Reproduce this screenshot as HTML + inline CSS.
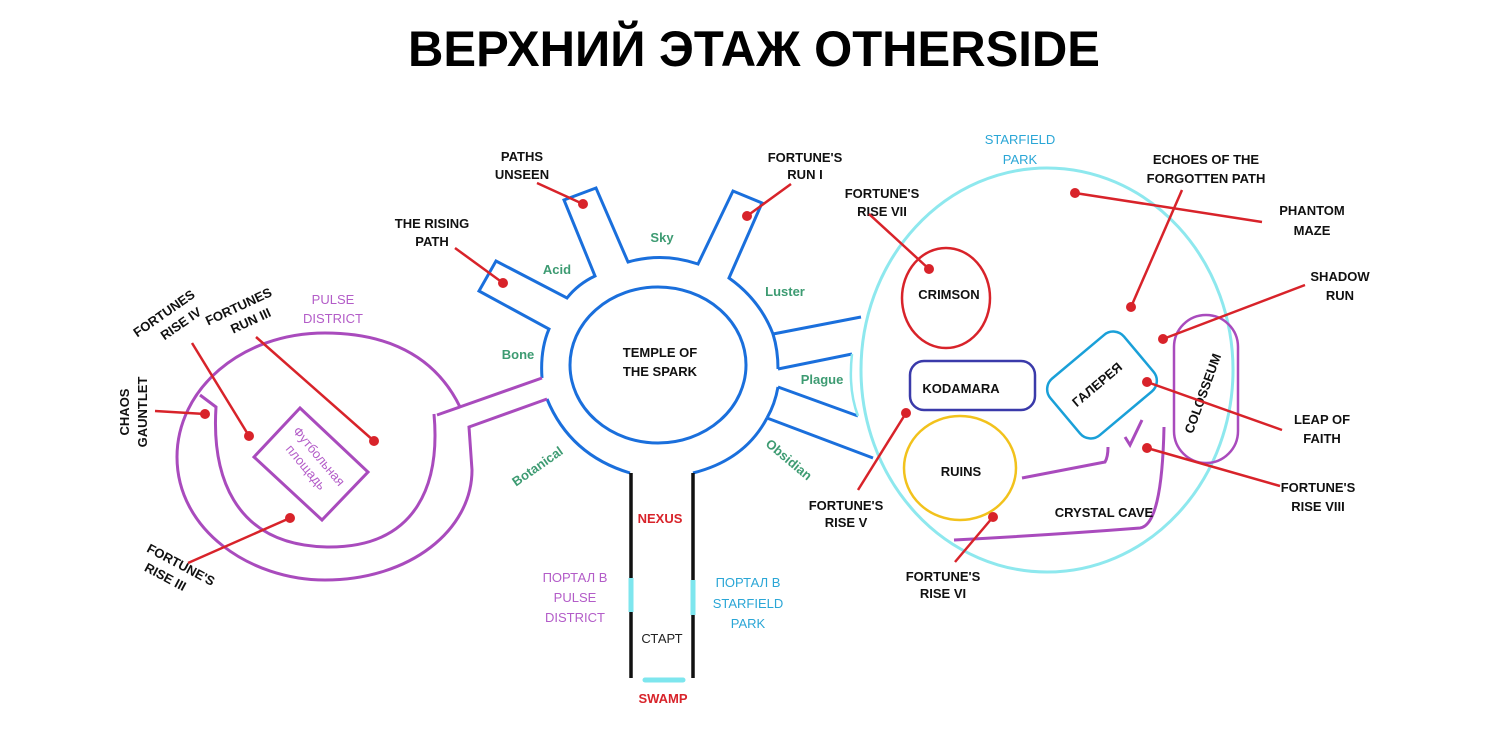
<!DOCTYPE html>
<html><head><meta charset="utf-8"><style>
html,body{margin:0;padding:0;background:#fff;}
svg{display:block}
text{font-family:"Liberation Sans","DejaVu Sans",sans-serif;}
.b{font-weight:bold;font-size:13px;fill:#111;text-anchor:middle}
.g{font-weight:bold;font-size:13px;fill:#3d9b72;text-anchor:middle}
.p{font-size:13px;fill:#b35cc8;text-anchor:middle}
.c{font-size:13px;fill:#2aa6d6;text-anchor:middle}
.r{font-weight:bold;font-size:13px;fill:#d8232a;text-anchor:middle}
.bl{fill:none;stroke:#1a6fdc;stroke-width:3}
.pu{fill:none;stroke:#a94bbd;stroke-width:3}
.rl{stroke:#d8232a;stroke-width:2.5}
.dot{fill:#d8232a}
</style></head><body>
<svg width="1500" height="730" viewBox="0 0 1500 730">
<text x="754" y="66" text-anchor="middle" font-weight="bold" font-size="50" textLength="692" lengthAdjust="spacingAndGlyphs" fill="#000">ВЕРХНИЙ ЭТАЖ OTHERSIDE</text>

<!-- Temple -->
<ellipse cx="658" cy="365" rx="88" ry="78" class="bl"/>
<text class="b" x="660" y="357">TEMPLE OF</text>
<text class="b" x="660" y="376">THE SPARK</text>
<!-- outer structure -->
<path class="bl" d="M542,378 Q540,350 549,329 L479,291 L496,261 L567,298 Q578,284 595,276 L564,200 L596,188 L628,262 Q663,252 698,264 L733,191 L762,203 L729,278 Q760,300 773,334 L861,317"/>
<path class="bl" d="M778,369 L852,354 M778,387 L858,416 M767,418 L873,458"/>
<path class="bl" d="M773,334 Q778,350 778,369 M778,387 Q775,404 767,418"/>
<path class="bl" d="M547,399 Q570,455 630,473 M693,473 Q745,460 767,418"/>
<path d="M852,354 Q848,390 858,416" fill="none" stroke="#8ee8ee" stroke-width="2.5"/>
<!-- stem -->
<path d="M631,473 V678 M693,473 V678" stroke="#111" stroke-width="3.5"/>
<path d="M631,578 V612 M693,580 V615" stroke="#7ee6ee" stroke-width="5"/>
<path d="M645,680 H683" stroke="#7ee6ee" stroke-width="5" stroke-linecap="round"/>
<text class="r" x="660" y="523">NEXUS</text>
<text font-size="13" x="662" y="643" text-anchor="middle" fill="#222">СТАРТ</text>
<text class="r" x="663" y="703">SWAMP</text>
<text class="p" x="575" y="582">ПОРТАЛ В</text>
<text class="p" x="575" y="602">PULSE</text>
<text class="p" x="575" y="622">DISTRICT</text>
<text class="c" x="748" y="587">ПОРТАЛ В</text>
<text class="c" x="748" y="608">STARFIELD</text>
<text class="c" x="748" y="628">PARK</text>

<!-- green labels -->
<text class="g" x="662" y="242">Sky</text>
<text class="g" x="557" y="274">Acid</text>
<text class="g" x="785" y="296">Luster</text>
<text class="g" x="518" y="359">Bone</text>
<text class="g" x="822" y="384">Plague</text>
<text class="g" transform="translate(540,470) rotate(-35)">Botanical</text>
<text class="g" transform="translate(786,463) rotate(40)">Obsidian</text>

<!-- top labels -->
<text class="b" x="522" y="161">PATHS</text><text class="b" x="522" y="179">UNSEEN</text>
<line class="rl" x1="537" y1="183" x2="583" y2="204"/><circle class="dot" cx="583" cy="204" r="5"/>
<text class="b" x="805" y="162">FORTUNE'S</text><text class="b" x="805" y="179">RUN I</text>
<line class="rl" x1="791" y1="184" x2="747" y2="216"/><circle class="dot" cx="747" cy="216" r="5"/>
<text class="b" x="432" y="228">THE RISING</text><text class="b" x="432" y="246">PATH</text>
<line class="rl" x1="455" y1="248" x2="503" y2="283"/><circle class="dot" cx="503" cy="283" r="5"/>

<!-- Pulse district -->
<path class="pu" d="M460,407 C430,345 370,333 325,333 C240,333 177,390 177,457 C177,530 250,580 325,580 C410,580 472,530 472,470 L469,427 L547,399"/>
<path class="pu" d="M542,378 L437,415 M460,407 L437,415"/>
<path class="pu" d="M200,395 L216,407 C212,470 230,545 327,547 C420,548 440,480 434,414"/>
<polygon points="300,408 368,472 322,520 254,457" class="pu"/>
<text class="p" font-size="13" transform="translate(311,463) rotate(50)"><tspan x="0" y="-6">Футбольная</tspan><tspan x="0" y="11">площадь</tspan></text>
<text class="p" x="333" y="304">PULSE</text><text class="p" x="333" y="323">DISTRICT</text>
<g class="b">
<text class="b" transform="translate(170,322) rotate(-35)"><tspan x="0" y="-6">FORTUNES</tspan><tspan x="8" y="12">RISE IV</tspan></text>
<text class="b" transform="translate(243,316) rotate(-25)"><tspan x="0" y="-6">FORTUNES</tspan><tspan x="5" y="12">RUN III</tspan></text>
<text class="b" transform="translate(133,412) rotate(-90)"><tspan x="0" y="-4">CHAOS</tspan><tspan x="0" y="14">GAUNTLET</tspan></text>
<text class="b" transform="translate(176,574) rotate(28)"><tspan x="0" y="-6">FORTUNE'S</tspan><tspan x="-8" y="12">RISE III</tspan></text>
</g>
<line class="rl" x1="155" y1="411" x2="205" y2="414"/><circle class="dot" cx="205" cy="414" r="5"/>
<line class="rl" x1="192" y1="343" x2="249" y2="436"/><circle class="dot" cx="249" cy="436" r="5"/>
<line class="rl" x1="256" y1="337" x2="374" y2="441"/><circle class="dot" cx="374" cy="441" r="5"/>
<line class="rl" x1="188" y1="563" x2="290" y2="518"/><circle class="dot" cx="290" cy="518" r="5"/>

<!-- Starfield park -->
<ellipse cx="1047" cy="370" rx="186" ry="202" fill="none" stroke="#8ee8ee" stroke-width="3"/>
<text class="c" x="1020" y="144">STARFIELD</text><text class="c" x="1020" y="164">PARK</text>
<ellipse cx="946" cy="298" rx="44" ry="50" fill="none" stroke="#d8232a" stroke-width="2.5"/>
<text class="b" x="949" y="299">CRIMSON</text>
<rect x="910" y="361" width="125" height="49" rx="14" fill="none" stroke="#3a3aaa" stroke-width="2.5"/>
<text class="b" x="961" y="393">KODAMARA</text>
<ellipse cx="960" cy="468" rx="56" ry="52" fill="none" stroke="#f2c21c" stroke-width="2.5"/>
<text class="b" x="961" y="476">RUINS</text>
<rect x="-48" y="-37" width="96" height="74" rx="14" transform="translate(1102,385) rotate(-40)" fill="none" stroke="#1aa0d8" stroke-width="2.5"/>
<text class="b" transform="translate(1100,388) rotate(-40)">ГАЛЕРЕЯ</text>
<rect x="1174" y="315" width="64" height="148" rx="32" fill="none" stroke="#a94bbd" stroke-width="2.5"/>
<text class="b" transform="translate(1207,395) rotate(-70)">COLOSSEUM</text>
<path class="pu" stroke-width="2.5" d="M1022,478 L1105,462 Q1108,457 1108,447"/>
<path class="pu" stroke-width="2.5" d="M954,540 Q1050,535 1140,528 Q1162,525 1164,427"/>
<path class="pu" stroke-width="2.5" d="M1125,437 L1130,445 L1142,420"/>
<text class="b" x="1104" y="517">CRYSTAL CAVE</text>

<text class="b" x="882" y="198">FORTUNE'S</text><text class="b" x="882" y="216">RISE VII</text>
<line class="rl" x1="869" y1="214" x2="929" y2="269"/><circle class="dot" cx="929" cy="269" r="5"/>
<text class="b" x="1206" y="164">ECHOES OF THE</text><text class="b" x="1206" y="183">FORGOTTEN PATH</text>
<line class="rl" x1="1182" y1="190" x2="1131" y2="307"/><circle class="dot" cx="1131" cy="307" r="5"/>
<text class="b" x="1312" y="215">PHANTOM</text><text class="b" x="1312" y="235">MAZE</text>
<line class="rl" x1="1262" y1="222" x2="1075" y2="193"/><circle class="dot" cx="1075" cy="193" r="5"/>
<text class="b" x="1340" y="281">SHADOW</text><text class="b" x="1340" y="300">RUN</text>
<line class="rl" x1="1305" y1="285" x2="1163" y2="339"/><circle class="dot" cx="1163" cy="339" r="5"/>
<text class="b" x="1322" y="424">LEAP OF</text><text class="b" x="1322" y="443">FAITH</text>
<line class="rl" x1="1282" y1="430" x2="1147" y2="382"/><circle class="dot" cx="1147" cy="382" r="5"/>
<text class="b" x="1318" y="492">FORTUNE'S</text><text class="b" x="1318" y="511">RISE VIII</text>
<line class="rl" x1="1280" y1="486" x2="1147" y2="448"/><circle class="dot" cx="1147" cy="448" r="5"/>
<text class="b" x="846" y="510">FORTUNE'S</text><text class="b" x="846" y="527">RISE V</text>
<line class="rl" x1="858" y1="490" x2="906" y2="413"/><circle class="dot" cx="906" cy="413" r="5"/>
<text class="b" x="943" y="581">FORTUNE'S</text><text class="b" x="943" y="598">RISE VI</text>
<line class="rl" x1="955" y1="562" x2="993" y2="517"/><circle class="dot" cx="993" cy="517" r="5"/>
</svg>
</body></html>
